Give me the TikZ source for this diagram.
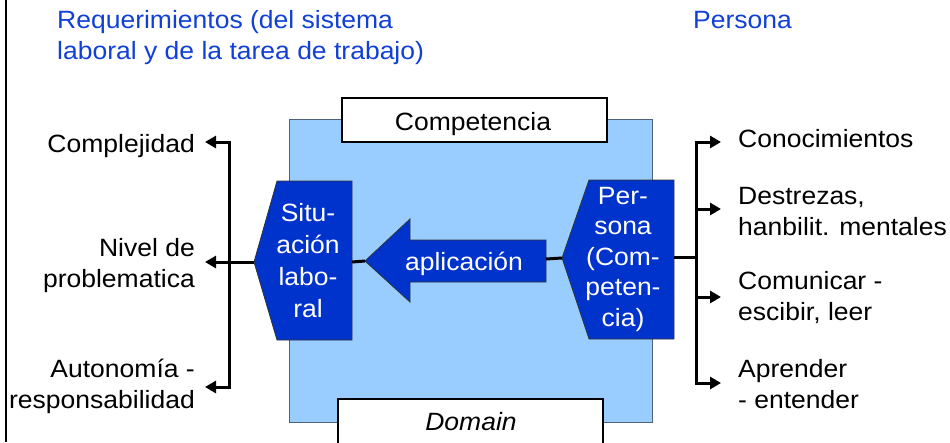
\documentclass[tikz,border=0pt]{standalone}
\usepackage{fontspec}
\setmainfont{Liberation Sans}[FakeStretch=1.06]
\usetikzlibrary{arrows.meta}
\definecolor{dkblue}{RGB}{0,51,204}
\definecolor{ltblue}{RGB}{153,204,255}
\definecolor{hdblue}{RGB}{16,64,214}
\definecolor{edgegray}{RGB}{80,96,120}
\begin{document}
\begin{tikzpicture}[x=1pt,y=-1pt,
  txt/.style={inner sep=0pt,font=\fontsize{25}{31}\selectfont},
  conn/.style={line width=3pt},
  arr/.style={line width=3pt,-{Triangle[length=11pt,width=12pt]}},
  whitebox/.style={draw=black,line width=2pt,fill=white},
  bluepoly/.style={fill=dkblue,draw=black!80,line width=0.8pt},
  intext/.style={txt,text=white,align=center}]
\useasboundingbox (0,0) rectangle (950,442);
% frame line
\draw[line width=2.5pt] (6,0) -- (6,442);
% blue area
\draw[fill=ltblue,draw=edgegray,line width=1pt] (289,119) rectangle (652,422);
% boxes
\draw[whitebox] (342,98) rectangle (607,142);
\node[txt,anchor=base] (comp) at (473,130) {Competencia};
\draw[whitebox] (338,399) rectangle (603,450);
\node[txt,anchor=base] (dom) at (471,430) {\itshape Domain};
% headers
\node[txt,anchor=north west,align=left,text=hdblue] (req) at (57,10) {Requerimientos (del sistema\\laboral y de la tarea de trabajo)};
\node[txt,anchor=north west,text=hdblue] (perh) at (693,11) {Persona};
% shapes
\draw[bluepoly] (277,181) -- (352,181) -- (352,340) -- (277,340) -- (254,262) -- cycle;
\coordinate (sitL) at (254,262);
\coordinate (sitR) at (352,262);
\node[intext,anchor=north,font=\fontsize{25}{32}\selectfont] (sit) at (308,203) {Situ-\\ación\\labo-\\ral};
\draw[bluepoly] (589,180) -- (674,180) -- (674,339) -- (589,339) -- (562,258) -- cycle;
\coordinate (perL) at (562,258);
\coordinate (perR) at (674,257);
\node[intext,anchor=north,font=\fontsize{25}{30.5}\selectfont] (per) at (623,187) {Per-\\sona\\(Com-\\peten-\\cia)};
\draw[bluepoly] (365,261) -- (410,219) -- (410,240) -- (546,240) -- (546,282) -- (410,282) -- (410,302) -- cycle;
\coordinate (apL) at (365,261);
\coordinate (apR) at (546,259);
\node[intext,anchor=base] (ap) at (464,270) {aplicación};
% middle connectors
\draw[conn] (perL) -- (apR);
\draw[conn] (sitR) -- (apL);
% left labels
\node[txt,anchor=base east] (l1) at (195,152) {Complejidad};
\node[txt,anchor=north east,align=right] (l2) at (195,238) {Nivel de\\problematica};
\node[txt,anchor=north east,align=right] (l3) at (195,359) {Autonomía -\\responsabilidad};
\coordinate (lb1) at (229,142);
\coordinate (lb2) at (229,262);
\coordinate (lb3) at (229,387);
\coordinate (la1) at (205,142);
\coordinate (la2) at (205,262);
\coordinate (la3) at (205,387);
\draw[conn] ([yshift=-1.5pt]lb1) -- ([yshift=1.5pt]lb3);
\draw[arr] ([xshift=1.5pt]lb1) -- (la1);
\draw[arr] (sitL) -- (la2);
\draw[arr] ([xshift=1.5pt]lb3) -- (la3);
% right labels
\node[txt,anchor=base west] (r1) at (738,147) {Conocimientos};
\node[txt,anchor=north west,align=left] (r2) at (738,187) {Destrezas,\\hanbilit. mentales};
\node[txt,anchor=north west,align=left] (r3) at (738,271) {Comunicar -\\escibir, leer};
\node[txt,anchor=north west,align=left] (r4) at (738,359) {Aprender\\- entender};
\coordinate (rb1) at (696,142);
\coordinate (rb2) at (696,209);
\coordinate (rbm) at (696,257);
\coordinate (rb3) at (696,297);
\coordinate (rb4) at (696,383);
\coordinate (ra1) at (721,142);
\coordinate (ra2) at (721,209);
\coordinate (ra3) at (721,297);
\coordinate (ra4) at (721,383);
\draw[conn] ([yshift=-1.5pt]rb1) -- ([yshift=1.5pt]rb4);
\draw[conn] (perR) -- (rbm);
\draw[arr] ([xshift=-1.5pt]rb1) -- (ra1);
\draw[arr] (rb2) -- (ra2);
\draw[arr] (rb3) -- (ra3);
\draw[arr] ([xshift=-1.5pt]rb4) -- (ra4);
\end{tikzpicture}
\end{document}
